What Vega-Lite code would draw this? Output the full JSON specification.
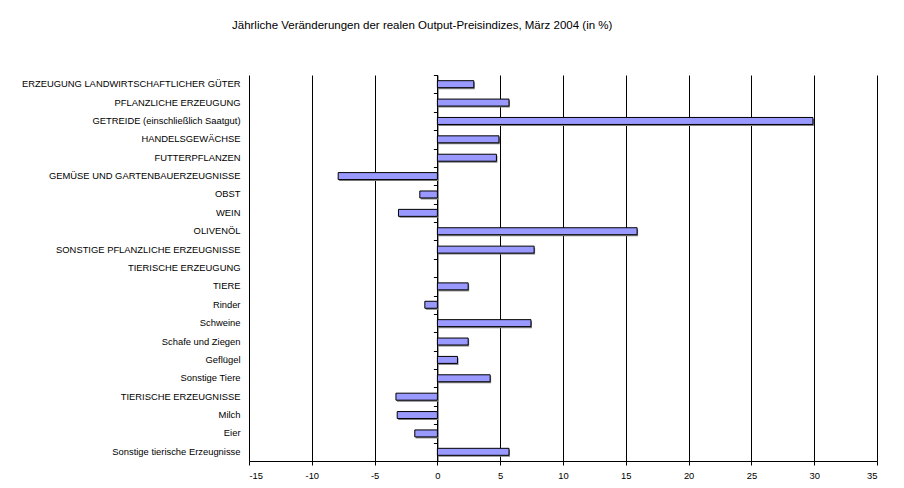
{
  "$schema": "https://vega.github.io/schema/vega-lite/v6.json",
  "width": 628,
  "height": 386,
  "autosize": {"type": "none"},
  "padding": {"left": 249, "top": 75, "right": 27, "bottom": 27},
  "background": "white",
  "config": {"view": {"stroke": null}, "font": "Liberation Sans"},
  "title": {
    "text": "Jährliche Veränderungen der realen Output-Preisindizes, März 2004 (in %)",
    "anchor": "start",
    "frame": "group",
    "dx": -17,
    "fontSize": 11.5,
    "fontWeight": "normal",
    "font": "Liberation Sans",
    "color": "black",
    "offset": 43
  },
  "data": {
    "values": [
      {"cat": "ERZEUGUNG LANDWIRTSCHAFTLICHER GÜTER", "v": 2.9},
      {"cat": "PFLANZLICHE ERZEUGUNG", "v": 5.7},
      {"cat": "GETREIDE (einschließlich Saatgut)", "v": 29.9},
      {"cat": "HANDELSGEWÄCHSE", "v": 4.9},
      {"cat": "FUTTERPFLANZEN", "v": 4.7},
      {"cat": "GEMÜSE UND GARTENBAUERZEUGNISSE", "v": -7.9},
      {"cat": "OBST", "v": -1.4},
      {"cat": "WEIN", "v": -3.1},
      {"cat": "OLIVENÖL", "v": 15.9},
      {"cat": "SONSTIGE PFLANZLICHE ERZEUGNISSE", "v": 7.7},
      {"cat": "TIERISCHE ERZEUGUNG", "v": null},
      {"cat": "TIERE", "v": 2.45},
      {"cat": "Rinder", "v": -1.0},
      {"cat": "Schweine", "v": 7.45},
      {"cat": "Schafe und Ziegen", "v": 2.45},
      {"cat": "Geflügel", "v": 1.6},
      {"cat": "Sonstige Tiere", "v": 4.2},
      {"cat": "TIERISCHE ERZEUGNISSE", "v": -3.3},
      {"cat": "Milch", "v": -3.2},
      {"cat": "Eier", "v": -1.8},
      {"cat": "Sonstige tierische Erzeugnisse", "v": 5.7}
    ]
  },
  "resolve": {"axis": {"y": "independent"}},
  "layer": [
    {
      "mark": {"type": "bar", "color": "#808080", "xOffset": 1, "yOffset": 1.5, "height": {"band": 0.38}},
      "encoding": {
        "y": {
          "field": "cat", "type": "nominal", "sort": null,
          "scale": {
            "domain": ["ERZEUGUNG LANDWIRTSCHAFTLICHER GÜTER", "PFLANZLICHE ERZEUGUNG", "GETREIDE (einschließlich Saatgut)", "HANDELSGEWÄCHSE", "FUTTERPFLANZEN", "GEMÜSE UND GARTENBAUERZEUGNISSE", "OBST", "WEIN", "OLIVENÖL", "SONSTIGE PFLANZLICHE ERZEUGNISSE", "TIERISCHE ERZEUGUNG", "TIERE", "Rinder", "Schweine", "Schafe und Ziegen", "Geflügel", "Sonstige Tiere", "TIERISCHE ERZEUGNISSE", "Milch", "Eier", "Sonstige tierische Erzeugnisse"],
            "paddingInner": 0, "paddingOuter": 0
          },
          "axis": {
            "orient": "left", "title": null, "domain": false, "ticks": false, "grid": false,
            "labelFontSize": 9.4, "labelColor": "black", "labelPadding": 9, "labelLimit": 300,
            "labelFont": "Liberation Sans"
          }
        },
        "x": {
          "field": "v", "type": "quantitative",
          "scale": {"domain": [-15, 35], "nice": false, "zero": false},
          "axis": {
            "title": null, "values": [-15, -10, -5, 0, 5, 10, 15, 20, 25, 30, 35],
            "labelExpr": "'' + datum.value",
            "grid": true, "gridColor": "black", "gridOpacity": 1, "gridWidth": 1,
            "domainColor": "black", "tickColor": "black", "tickSize": 4,
            "labelFontSize": 9.4, "labelColor": "black", "labelPadding": 6,
            "labelFont": "Liberation Sans"
          }
        }
      }
    },
    {
      "mark": {"type": "bar", "color": "#9999FF", "stroke": "black", "strokeWidth": 1, "height": {"band": 0.38}},
      "encoding": {
        "y": {
          "field": "cat", "type": "nominal", "sort": null,
          "axis": {
            "orient": "left", "title": null, "labels": false, "domain": true, "domainColor": "black",
            "ticks": true, "tickColor": "black", "tickSize": 4, "tickBand": "extent",
            "grid": false, "offset": -188.4
          }
        },
        "x": {
          "field": "v", "type": "quantitative",
          "axis": {
            "title": null, "values": [-15, -10, -5, 0, 5, 10, 15, 20, 25, 30, 35],
            "labelExpr": "'' + datum.value",
            "grid": true, "gridColor": "black", "gridOpacity": 1, "gridWidth": 1,
            "domainColor": "black", "tickColor": "black", "tickSize": 4,
            "labelFontSize": 9.4, "labelColor": "black", "labelPadding": 6,
            "labelFont": "Liberation Sans"
          }
        }
      }
    }
  ]
}
